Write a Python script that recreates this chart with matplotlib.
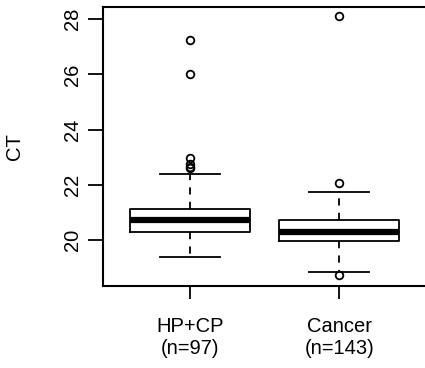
import matplotlib
matplotlib.use("Agg")
import matplotlib.pyplot as plt

plt.rcParams['font.family'] = ['Liberation Sans', 'DejaVu Sans']

groups = ["HP+CP\n(n=97)", "Cancer\n(n=143)"]
q1 = [20.27, 19.96]
med = [20.73, 20.28]
q3 = [21.12, 20.72]
whislo = [19.39, 18.84]
whishi = [22.39, 21.72]
fliers = [[27.24, 26.03, 22.97, 22.76, 22.66, 22.60], [28.11, 22.08, 18.72]]
yticks = [20, 22, 24, 26, 28]

stats = []
for i, g in enumerate(groups):
    stats.append(dict(label=g, med=med[i], q1=q1[i], q3=q3[i],
                      whislo=whislo[i], whishi=whishi[i], fliers=fliers[i]))

fig = plt.figure(figsize=(4.25, 3.68), dpi=100)
ax = fig.add_axes([0.2424, 0.2228, 0.76, 0.7582])

ax.bxp(stats, positions=[1, 2], widths=0.8, capwidths=0.4,
       boxprops=dict(color='black', linewidth=1.3),
       medianprops=dict(color='black', linewidth=4.5, solid_capstyle='butt'),
       whiskerprops=dict(color='black', linewidth=1.3, linestyle=(0, (4, 4))),
       capprops=dict(color='black', linewidth=1.3),
       flierprops=dict(marker='o', markerfacecolor='none', markeredgecolor='black',
                       markersize=5.5, markeredgewidth=1.3))

ax.set_xlim(0.42, 2.58)
ax.set_ylim(18.33, 28.44)
ax.set_yticks(yticks)
ax.set_yticklabels([str(t) for t in yticks], rotation=90, va='center')
ax.set_ylabel('CT', fontsize=14.5)
ax.yaxis.set_label_coords(-0.245, 0.5)

ax.tick_params(axis='y', length=11, width=1.3, labelsize=14.5, pad=4)
ax.tick_params(axis='x', length=9, width=1.3, labelsize=14.5, pad=13)
for s in ax.spines.values():
    s.set_linewidth(1.5)
ax.spines['right'].set_visible(False)

fig.savefig('out.png', dpi=100)
